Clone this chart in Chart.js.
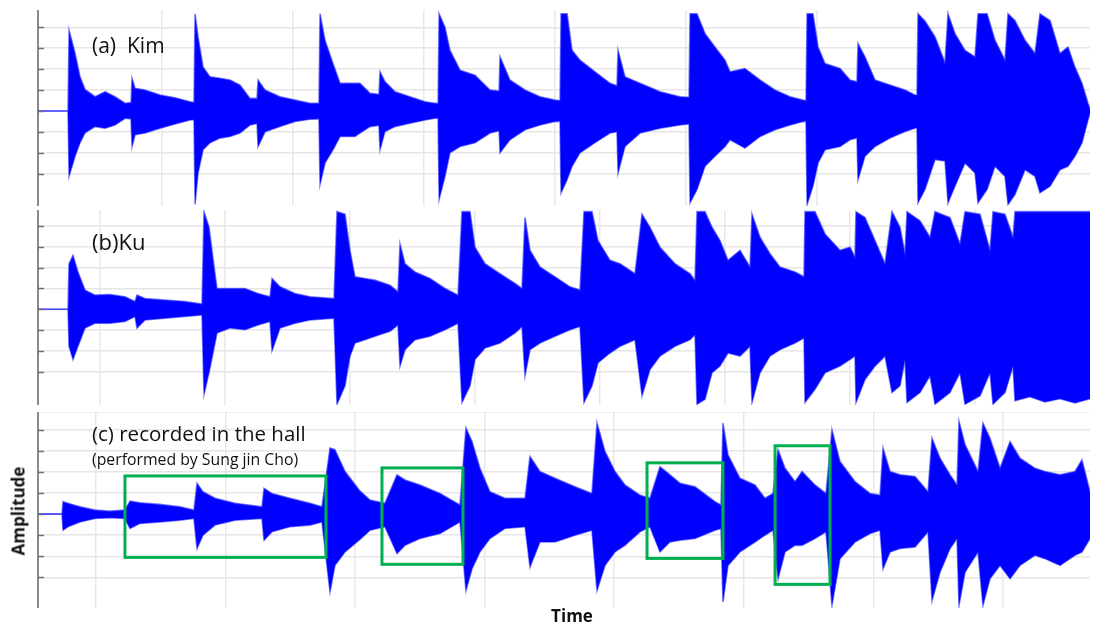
<!DOCTYPE html>
<html>
<head>
<meta charset="utf-8">
<script src="https://cdn.jsdelivr.net/npm/chart.js@4.4.0/dist/chart.umd.min.js"></script>
<style>
body { margin: 0; background: #fff; }
#wrap { position: relative; width: 1105px; height: 623px; overflow: hidden; font-family: "Open Sans", sans-serif; }
canvas { position: absolute; left: 0; }
.lbl { position: absolute; color: #111; white-space: nowrap; line-height: 1; }
</style>
</head>
<body>
<div id="wrap">
  <canvas id="kim" width="1105" height="196" style="top:10px"></canvas>
  <canvas id="ku" width="1105" height="195" style="top:210px"></canvas>
  <canvas id="hall" width="1105" height="196" style="top:412px"></canvas>
  <div class="lbl" style="left:92px;top:35px;font-size:21px">(a)&nbsp; Kim</div>
  <div class="lbl" style="left:92px;top:230px;font-size:22px">(b)Ku</div>
  <div class="lbl" style="left:92px;top:423px;font-size:20.5px">(c) recorded in the hall</div>
  <div class="lbl" style="left:92px;top:452px;font-size:15.8px">(performed by Sung jin Cho)</div>
  <div class="lbl" style="left:18px;top:511px;font-size:17px;font-weight:bold;transform:translate(-50%,-50%) rotate(-90deg)">Amplitude</div>
  <div class="lbl" style="left:572px;top:615px;font-size:17px;font-weight:bold;transform:translate(-50%,-50%)">Time</div>
</div>
<script>
// (a) Kim - envelope of the waveform (time, upper peak, lower peak), 1 unit = one grid line
var kimTime = [0.53, 2.82, 2.9, 3.36, 3.74, 4.12, 4.89, 5.65, 6.41, 7.18,
  7.63, 7.71, 7.94, 8.7, 9.85, 10.99, 12.14, 12.44, 12.52, 12.75,
  13.13, 13.66, 14.43, 15.19, 15.95, 16.72, 17.25, 17.33, 17.86, 19.0,
  20.15, 21.3, 21.98, 22.06, 22.44, 23.05, 23.59, 24.73, 25.11, 25.88,
  26.56, 26.64, 27.02, 27.79, 28.93, 30.08, 30.84, 31.07, 31.15, 31.6,
  31.98, 32.75, 33.89, 35.04, 35.73, 35.8, 36.56, 37.71, 38.85, 40.0,
  40.38, 40.46, 40.92, 41.3, 41.91, 43.05, 44.2, 44.73, 44.81, 45.34,
  46.49, 48.02, 49.54, 50.23, 50.31, 50.84, 51.45, 52.21, 52.98, 53.36,
  54.5, 55.65, 56.79, 57.94, 58.93, 59.16, 59.24, 59.69, 60.08, 60.61,
  61.76, 62.52, 63.05, 63.13, 63.66, 64.43, 65.57, 66.72, 67.48, 67.63,
  67.71, 68.24, 69.01, 69.77, 70.0, 70.53, 71.3, 72.06, 72.29, 72.98,
  73.59, 74.35, 74.58, 75.11, 75.88, 76.64, 77.02, 77.79, 78.55, 79.16,
  79.69, 80.23, 80.69, 80.84];
var kimTop = [0, 0, 3.86, 2.76, 1.63, 1.03, 0.68, 0.92, 0.68, 0.37,
  0.4, 1.56, 1.08, 1.0, 0.76, 0.63, 0.44, 0.42, 4.65, 3.54,
  2.1, 1.63, 1.56, 1.48, 1.24, 0.6, 0.6, 1.48, 1.0, 0.68,
  0.52, 0.37, 0.37, 4.65, 3.38, 2.27, 1.32, 1.32, 1.32, 0.84,
  0.8, 1.87, 1.4, 0.92, 0.68, 0.44, 0.37, 0.37, 4.65, 4.0,
  2.9, 1.95, 1.71, 1.0, 0.95, 2.59, 1.48, 1.0, 0.68, 0.52,
  0.5, 4.65, 4.65, 2.9, 2.43, 1.87, 1.32, 1.2, 2.9, 1.63,
  1.32, 0.92, 0.68, 0.65, 4.65, 4.65, 3.7, 3.06, 2.43, 1.87,
  2.03, 1.48, 1.0, 0.68, 0.52, 0.5, 4.65, 4.65, 3.06, 2.27,
  2.03, 1.48, 1.4, 3.22, 2.59, 1.48, 1.24, 1.0, 0.76, 0.76,
  4.65, 4.3, 3.54, 2.3, 4.65, 3.7, 2.9, 2.59, 4.65, 4.65,
  3.38, 2.43, 4.65, 4.33, 3.38, 2.75, 4.65, 4.33, 2.75, 3.06,
  2.1, 1.32, 0.37, 0.1];
var kimBottom = [0, 0, -3.13, -2.17, -1.52, -1.05, -0.75, -0.83, -0.67, -0.35,
  -0.38, -1.7, -1.14, -1.06, -0.83, -0.62, -0.43, -0.42, -4.48, -2.97,
  -1.86, -1.52, -1.3, -1.22, -1.06, -0.67, -0.6, -1.7, -1.0, -0.75,
  -0.51, -0.4, -0.38, -3.52, -2.49, -1.86, -1.22, -1.22, -1.06, -0.75,
  -0.7, -1.86, -0.98, -0.75, -0.59, -0.43, -0.35, -0.35, -4.24, -3.13,
  -2.0, -1.7, -1.52, -1.06, -0.95, -2.0, -1.38, -0.9, -0.67, -0.51,
  -0.5, -3.92, -3.29, -2.65, -2.0, -1.52, -1.06, -1.0, -2.97, -1.7,
  -1.06, -0.83, -0.67, -0.62, -4.4, -3.76, -2.65, -2.17, -1.7, -1.38,
  -1.78, -1.22, -0.9, -0.67, -0.51, -0.5, -4.48, -3.6, -2.49, -1.86,
  -1.7, -1.38, -1.3, -3.29, -2.17, -1.7, -1.3, -0.98, -0.83, -0.8,
  -4.4, -3.76, -2.33, -2.4, -4.4, -3.6, -2.49, -2.97, -4.4, -3.76,
  -2.65, -3.13, -4.48, -4.0, -2.81, -3.13, -3.92, -3.6, -2.81, -2.65,
  -2.17, -1.52, -0.43, -0.1];

// (b) Ku
var kuTime = [5.04, 7.44, 7.52, 7.84, 8.24, 8.8, 9.6, 10.8, 12.0, 12.8,
  12.96, 13.6, 15.2, 16.8, 18.16, 18.32, 18.72, 19.2, 19.36, 20.4,
  21.6, 22.64, 23.6, 23.76, 24.4, 25.6, 26.8, 28.72, 28.96, 29.6,
  30.0, 30.4, 31.2, 32.0, 33.2, 33.84, 34.0, 34.4, 35.2, 36.4,
  37.6, 38.64, 38.96, 39.6, 40.0, 40.8, 42.0, 43.2, 43.76, 44.0,
  44.4, 45.2, 46.4, 47.6, 48.4, 48.72, 49.36, 49.84, 50.8, 51.6,
  52.8, 53.36, 54.0, 54.8, 56.0, 57.2, 57.6, 57.76, 58.4, 58.96,
  59.6, 60.24, 61.2, 62.0, 62.16, 62.8, 63.6, 64.4, 65.6, 66.32,
  66.4, 67.2, 68.0, 69.2, 70.0, 70.4, 70.48, 71.2, 72.0, 72.8,
  73.36, 74.0, 74.4, 74.56, 75.6, 76.4, 76.8, 78.0, 78.8, 79.2,
  80.4, 81.2, 81.44, 82.4, 83.04, 83.2, 84.4, 85.6, 86.8, 88.0,
  89.2];
var kuTop = [0, 0, 2.19, 2.59, 1.79, 0.92, 0.68, 0.71, 0.6, 0.37,
  0.68, 0.52, 0.44, 0.37, 0.25, 4.69, 3.94, 1.71, 1.0, 1.0,
  1.0, 0.76, 0.6, 1.48, 1.08, 0.76, 0.6, 0.52, 4.69, 4.57,
  2.83, 1.56, 1.48, 1.4, 1.16, 0.84, 3.14, 2.19, 1.79, 1.48,
  1.0, 0.68, 4.69, 4.69, 2.98, 2.19, 1.71, 1.24, 1.0, 4.41,
  2.83, 2.03, 1.56, 1.08, 0.92, 4.69, 4.69, 3.3, 2.35, 2.19,
  1.71, 4.57, 3.94, 2.98, 2.19, 1.71, 1.4, 4.69, 4.69, 3.94,
  3.3, 2.35, 2.83, 2.03, 4.57, 3.46, 2.67, 2.03, 1.79, 1.56,
  4.69, 4.69, 3.62, 2.83, 2.98, 2.51, 4.69, 4.41, 3.3, 2.19,
  4.69, 3.94, 2.67, 4.69, 4.25, 3.46, 4.69, 4.41, 3.14, 4.69,
  4.57, 2.83, 4.69, 4.57, 3.46, 4.69, 4.69, 4.69, 4.69, 4.69,
  4.69];
var kuBottom = [0, 0, -1.78, -2.41, -1.78, -0.9, -0.67, -0.67, -0.59, -0.35,
  -0.9, -0.51, -0.43, -0.35, -0.27, -4.08, -3.05, -1.62, -1.14, -0.9,
  -0.98, -0.75, -0.59, -2.0, -0.9, -0.67, -0.51, -0.43, -4.56, -3.68,
  -2.25, -1.62, -1.46, -1.3, -1.06, -0.75, -2.73, -1.94, -1.46, -1.3,
  -0.98, -0.67, -4.48, -3.68, -2.41, -1.86, -1.62, -1.14, -0.83, -3.2,
  -1.94, -1.62, -1.3, -0.98, -0.83, -4.48, -3.68, -2.57, -2.1, -1.78,
  -1.46, -4.16, -2.89, -2.25, -1.78, -1.46, -1.22, -4.56, -4.32, -3.05,
  -2.73, -2.1, -2.25, -1.78, -4.48, -3.05, -2.25, -1.94, -1.62, -1.38,
  -4.48, -3.84, -3.05, -2.73, -2.41, -2.25, -4.48, -3.37, -2.73, -2.25,
  -4.0, -3.68, -2.41, -4.48, -4.0, -3.2, -4.56, -4.0, -3.05, -4.56,
  -4.16, -3.05, -4.56, -4.0, -2.73, -4.4, -4.2, -4.45, -4.3, -4.5,
  -4.3];

// (c) recorded in the hall
var hallTime = [5.55, 7.40, 7.48, 7.86, 8.79, 9.95, 11.10, 12.26, 12.65, 13.42,
  14.96, 16.50, 17.58, 17.82, 18.28, 19.21, 20.75, 22.83, 22.99, 23.60,
  24.99, 26.54, 27.46, 28.08, 28.46, 29.24, 30.39, 31.17, 32.32, 33.25,
  33.87, 35.02, 36.57, 38.11, 38.57, 39.04, 39.65, 40.42, 41.58, 43.13,
  43.51, 44.28, 45.44, 46.98, 48.29, 48.68, 49.30, 50.07, 50.84, 52.0,
  52.77, 53.54, 54.31, 55.09, 56.24, 57.79, 58.25, 58.40, 58.79, 59.71,
  60.87, 61.64, 62.26, 62.65, 63.19, 63.96, 64.50, 65.50, 66.35, 66.81,
  67.43, 68.59, 69.75, 70.52, 70.75, 71.29, 72.06, 73.22, 74.22, 74.53,
  75.15, 75.92, 76.46, 76.61, 77.08, 78.08, 78.46, 79.0, 79.78, 80.55,
  81.32, 82.48, 83.25, 84.41, 85.56, 86.10, 86.72];
var hallTop = [0, 0, 0.59, 0.51, 0.35, 0.19, 0.14, 0.19, 0.62, 0.54,
  0.46, 0.35, 0.19, 1.46, 1.06, 0.75, 0.51, 0.35, 1.22, 0.98,
  0.75, 0.51, 0.35, 3.13, 3.05, 2.02, 1.1, 0.67, 0.51, 1.86,
  1.62, 1.38, 0.98, 0.43, 4.08, 3.44, 2.17, 1.06, 0.75, 0.75,
  2.73, 2.02, 1.7, 1.3, 0.98, 4.32, 2.97, 2.02, 1.38, 0.9,
  0.75, 2.25, 1.86, 1.46, 1.3, 0.59, 0.43, 4.32, 2.81, 1.7,
  1.38, 0.75, 0.98, 3.05, 2.17, 1.54, 2.02, 1.38, 0.98, 4.0,
  2.49, 1.54, 0.98, 0.9, 3.13, 2.02, 1.86, 1.78, 1.06, 3.6,
  2.65, 1.86, 1.38, 4.4, 3.29, 2.02, 4.32, 3.6, 2.17, 3.44,
  2.65, 2.17, 2.02, 1.86, 2.02, 2.57, 1.06];
var hallBottom = [0, 0, -0.76, -0.6, -0.37, -0.21, -0.17, -0.21, -0.68, -0.44,
  -0.37, -0.29, -0.21, -1.63, -1.0, -0.52, -0.29, -0.21, -1.24, -0.84,
  -0.6, -0.52, -0.37, -3.7, -2.43, -1.79, -1.2, -0.76, -0.6, -1.87,
  -1.48, -1.16, -0.92, -0.37, -3.62, -2.59, -1.79, -1.16, -0.68, -0.6,
  -2.51, -1.32, -1.32, -1.0, -0.76, -3.62, -2.43, -1.79, -1.48, -0.84,
  -0.6, -1.79, -1.32, -1.24, -1.16, -0.76, -0.68, -4.17, -2.43, -1.79,
  -1.32, -1.0, -0.76, -3.06, -1.79, -1.48, -1.48, -1.16, -0.84, -4.33,
  -2.11, -1.32, -0.92, -0.76, -2.59, -1.79, -1.63, -1.56, -0.84, -4.1,
  -2.75, -1.63, -1.16, -4.33, -2.75, -1.79, -4.33, -3.06, -2.43, -3.06,
  -2.43, -1.95, -2.11, -2.43, -1.95, -1.8, -1.16];

// green boxes marked on (c)
var boxStart = [12.26, 32.09, 52.54, 62.42];
var boxEnd = [27.77, 38.34, 58.40, 66.66];
var boxTop = [1.81, 2.19, 2.43, 3.24];
var boxBottom = [-2.05, -2.38, -2.1, -3.33];

function pts(t, v) {
  return t.map(function (x, i) { return { x: x, y: v[i] }; });
}

var innerTicks = {
  id: "innerTicks",
  afterDraw: function (chart) {
    var y = chart.scales.y, ctx = chart.ctx, left = chart.chartArea.left;
    ctx.save();
    ctx.strokeStyle = "#707070";
    ctx.lineWidth = 1.5;
    y.ticks.forEach(function (t) {
      if (Math.abs(t.value - Math.round(t.value)) > 1e-6) return;
      var py = Math.round(y.getPixelForValue(t.value)) + 0.5;
      ctx.beginPath();
      ctx.moveTo(left, py);
      ctx.lineTo(left + 6, py);
      ctx.stroke();
    });
    ctx.restore();
  }
};

var greenBoxes = {
  id: "greenBoxes",
  afterDatasetsDraw: function (chart, args, opts) {
    if (!opts.show) return;
    var x = chart.scales.x, y = chart.scales.y, ctx = chart.ctx;
    ctx.save();
    ctx.strokeStyle = "#00b050";
    ctx.lineWidth = 3;
    boxStart.forEach(function (s, i) {
      var x0 = x.getPixelForValue(s), x1 = x.getPixelForValue(boxEnd[i]);
      var y0 = y.getPixelForValue(boxTop[i]), y1 = y.getPixelForValue(boxBottom[i]);
      ctx.strokeRect(x0, y0, x1 - x0, y1 - y0);
    });
    ctx.restore();
  }
};

function makePanel(id, t, top, bottom, xMin, xMax, yMin, yMax, boxes) {
  var line = { borderColor: "rgba(40,40,255,0.6)", borderWidth: 1.6, pointRadius: 0, tension: 0, clip: 0 };
  return new Chart(document.getElementById(id), {
    type: "line",
    data: {
      datasets: [
        Object.assign({ data: pts(t, top), fill: "+1", backgroundColor: "#0000ff" }, line),
        Object.assign({ data: pts(t, bottom), fill: false }, line)
      ]
    },
    options: {
      responsive: false,
      animation: false,
      events: [],
      layout: { padding: { left: 38, right: 15, top: 0, bottom: 0 } },
      plugins: { legend: { display: false }, tooltip: { enabled: false }, greenBoxes: { show: boxes } },
      scales: {
        x: {
          type: "linear", min: xMin, max: xMax,
          ticks: { display: false, stepSize: 10 },
          grid: { color: "#e8e8e8", lineWidth: 1.5, drawTicks: false },
          border: { display: false },
          afterBuildTicks: function (s) {
            s.ticks = s.ticks.filter(function (k) {
              return Math.abs(k.value / 10 - Math.round(k.value / 10)) < 1e-6 && k.value > xMin && k.value < xMax;
            });
          }
        },
        y: {
          min: yMin, max: yMax,
          ticks: { display: false, stepSize: 1 },
          grid: {
            color: function (c) { return c.tick && c.tick.value === yMax ? (boxes ? "#dde6f0" : "rgba(0,0,0,0)") : "#e6e6e6"; },
            lineWidth: 1.5, drawTicks: false
          },
          border: { display: true, color: "#8a8a8a", width: 2 },
          afterBuildTicks: function (s) {
            s.ticks = s.ticks.filter(function (k) {
              return Math.abs(k.value - Math.round(k.value)) < 1e-6 || k.value === yMax;
            });
          }
        }
      }
    },
    plugins: [innerTicks, greenBoxes]
  });
}

makePanel("kim", kimTime, kimTop, kimBottom, 0.53, 80.84, -4.55, 4.83, false);
makePanel("ku", kuTime, kuTop, kuBottom, 5.04, 89.2, -4.6, 4.77, false);
makePanel("hall", hallTime, hallTop, hallBottom, 5.55, 86.72, -4.45, 4.84, true);
</script>
</body>
</html>
